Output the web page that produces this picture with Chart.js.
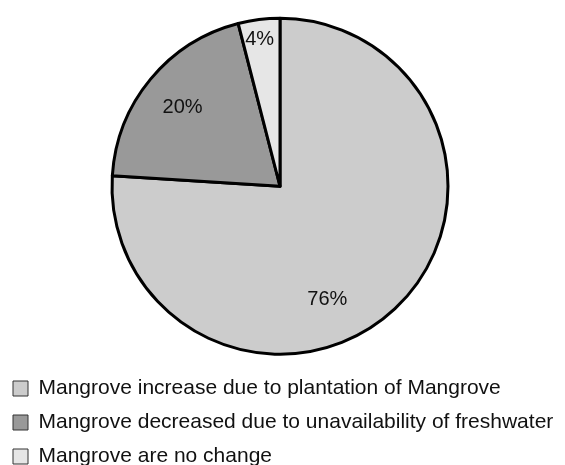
<!DOCTYPE html>
<html lang="en">
<head>
    <meta charset="UTF-8">
    <title>Mangrove change</title>
    <script src="https://cdn.jsdelivr.net/npm/chart.js"></script>
    <style>
        html, body {
            margin: 0;
            padding: 0;
            background: #ffffff;
            overflow: hidden;
        }
        #chart-container {
            width: 565px;
            height: 477px; /* last legend row runs past the window, as in the picture */
        }
    </style>
</head>
<body>
    <div id="chart-container">
        <canvas id="pieChart"></canvas>
    </div>
    <script>
        // data
        var categories = [
            'Mangrove increase due to plantation of Mangrove',
            'Mangrove decreased due to unavailability of freshwater',
            'Mangrove are no change'
        ];
        var shares = [76, 20, 4];
        var sliceColors = ['#cccccc', '#999999', '#e6e6e6'];

        // where each percent label sits inside its slice (fraction of angle, fraction of radius)
        var labelAngleFrac = [0.575, 0.49, 0.45];
        var labelRadiusFrac = [0.73, 0.745, 0.88];

        var pieLabels = {
            id: 'pieLabels',
            afterDatasetsDraw: function(chart) {
                var ctx = chart.ctx;
                var arcs = chart.getDatasetMeta(0).data;
                ctx.save();
                ctx.font = '20px "Liberation Sans", Arial, sans-serif';
                ctx.fillStyle = '#111111';
                ctx.textAlign = 'center';
                ctx.textBaseline = 'middle';
                arcs.forEach(function(arc, i) {
                    var a = arc.startAngle + (arc.endAngle - arc.startAngle) * labelAngleFrac[i];
                    var r = arc.outerRadius * labelRadiusFrac[i];
                    ctx.fillText(shares[i] + '%', arc.x + Math.cos(a) * r, arc.y + Math.sin(a) * r);
                });
                ctx.restore();
            }
        };

        var ctx = document.getElementById('pieChart').getContext('2d');
        var myPie = new Chart(ctx, {
            type: 'pie',
            data: {
                labels: categories,
                datasets: [{
                    data: shares,
                    backgroundColor: sliceColors,
                    borderColor: '#000000',
                    borderWidth: 3,
                    borderJoinStyle: 'round',
                    radius: 168
                }]
            },
            options: {
                responsive: true,
                maintainAspectRatio: false,
                animation: false,
                layout: {
                    padding: { top: 7.5, right: 5, bottom: 0, left: 0 }
                },
                plugins: {
                    tooltip: { enabled: false },
                    legend: {
                        position: 'bottom',
                        align: 'start',
                        labels: {
                            boxWidth: 15,
                            boxHeight: 15,
                            padding: 13,
                            color: '#111111',
                            font: { family: '"Liberation Sans", Arial, sans-serif', size: 21 },
                            generateLabels: function(chart) {
                                var items = Chart.overrides.pie.plugins.legend.labels.generateLabels(chart);
                                items.forEach(function(item) {
                                    item.lineWidth = 1;
                                    item.strokeStyle = '#333333';
                                });
                                return items;
                            }
                        }
                    }
                }
            },
            plugins: [pieLabels]
        });
    </script>
</body>
</html>
